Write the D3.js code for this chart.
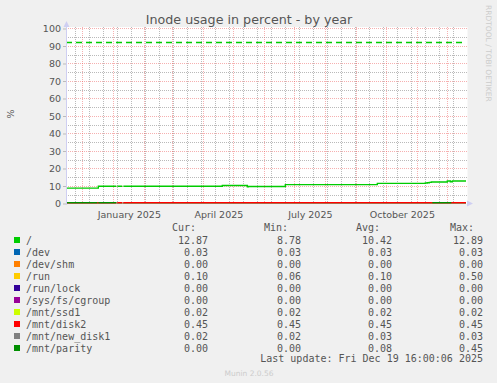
<!DOCTYPE html>
<html>
<head>
<meta charset="utf-8">
<title>Inode usage in percent - by year</title>
<style>
  body { margin: 0; background: #f0f0f0; }
  svg text { font-family: "DejaVu Sans", sans-serif; }
  .legend text { font-family: "DejaVu Sans Mono", monospace; font-size: 10px; fill: #555; }
</style>
</head>
<body>
<div id="chart"></div>
<script src="https://cdn.jsdelivr.net/npm/d3@7"></script>
<script type="text/javascript">
// ---- data ----
const names = ["/", "/dev", "/dev/shm", "/run", "/run/lock", "/sys/fs/cgroup", "/mnt/ssd1", "/mnt/disk2", "/mnt/new_disk1", "/mnt/parity"];
const colors = ["#00cc00", "#0066b3", "#ff8000", "#ffcc00", "#330099", "#990099", "#ccff00", "#ff0000", "#808080", "#008f00"];
const curVals = [12.87, 0.03, 0.00, 0.10, 0.00, 0.00, 0.02, 0.45, 0.02, 0.00];
const minVals = [8.78, 0.03, 0.00, 0.06, 0.00, 0.00, 0.02, 0.45, 0.02, 0.00];
const avgVals = [10.42, 0.03, 0.00, 0.10, 0.00, 0.00, 0.02, 0.45, 0.03, 0.08];
const maxVals = [12.89, 0.03, 0.00, 0.50, 0.00, 0.00, 0.02, 0.45, 0.03, 0.45];

// step series: value i holds from times[i] to times[i+1], null = no data
const rootTimes = ["2024-11-14 16:00", "2024-12-17", "2025-01-04", "2025-01-05", "2025-01-10", "2025-01-11",
  "2025-04-20", "2025-05-15", "2025-05-16", "2025-06-22", "2025-09-22", "2025-11-09", "2025-11-11",
  "2025-11-13", "2025-11-15", "2025-12-01", "2025-12-04", "2025-12-06", "2025-12-19 16:00"];
const rootValues = [8.78, 9.9, null, 9.9, null, 9.9, 10.3, 9.5, 9.7, 10.8, 11.5, 11.7, 11.9, 12.1, 12.3, 12.89, 12.4, 12.87];

const smallTimes = ["2024-11-14 16:00", "2025-01-04", "2025-01-05", "2025-01-10", "2025-01-11", "2025-12-19 16:00"];
const devValues = [0.03, null, 0.03, null, 0.03];
const shmValues = [0, null, 0, null, 0];
const runValues = [0.1, null, 0.1, null, 0.1];
const lockValues = [0, null, 0, null, 0];
const cgroupValues = [0, null, 0, null, 0];
const ssd1Values = [0.02, null, 0.02, null, 0.02];
const newDisk1Values = [0.03, null, 0.03, null, 0.02];
const disk2Values = [0.45, null, 0.45, null, 0.45];

const parityTimes = ["2024-11-14 16:00", "2024-12-16", "2024-12-17", "2025-01-04", "2025-11-16", "2025-12-05", "2025-12-19 16:00"];
const parityValues = [0.45, null, 0.45, null, 0.45, null];

const warningLevel = 92;
const yTicks = [0, 10, 20, 30, 40, 50, 60, 70, 80, 90, 100];
const xLabelMonths = ["2025-01-01", "2025-04-01", "2025-07-01", "2025-10-01"];
const graphStart = "2024-11-14 16:00", graphEnd = "2025-12-19 16:00";

// ---- setup ----
const W = 497, H = 383;
const parse = s => d3.utcParse(s.length > 10 ? "%Y-%m-%d %H:%M" : "%Y-%m-%d")(s);

const svg = d3.select("#chart").append("svg")
  .attr("width", W).attr("height", H);
svg.append("rect").attr("width", W).attr("height", H).attr("fill", "#f0f0f0");

const x = d3.scaleUtc().domain([parse(graphStart), parse(graphEnd)]).range([66, 466]);
const y = d3.scaleLinear().domain([0, 100]).range([203.5, 28.5]);

// plot canvas
svg.append("rect").attr("x", 66).attr("y", 27).attr("width", 401.5).attr("height", 177).attr("fill", "#fff");

// grid: minor = 5 units / two weeks, major = 10 units / months
const grid = svg.append("g");
const minorColor = "rgba(130,130,130,0.55)", majorColor = "rgba(235,80,80,0.45)";
const minorY = d3.range(5, 100, 10);
grid.selectAll(".hmin").data(minorY).join("line")
  .attr("x1", 66).attr("x2", 467).attr("y1", d => Math.round(y(d)) + 0.5).attr("y2", d => Math.round(y(d)) + 0.5)
  .attr("stroke", minorColor).attr("stroke-dasharray", "1,1");
const weeks = d3.utcDay.range(parse("2024-11-24"), parse(graphEnd), 14);
grid.selectAll(".vmin").data(weeks).join("line")
  .attr("x1", d => Math.round(x(d)) + 0.5).attr("x2", d => Math.round(x(d)) + 0.5).attr("y1", 27).attr("y2", 203.5)
  .attr("stroke", minorColor).attr("stroke-dasharray", "1,1");
grid.selectAll(".hmaj").data(yTicks.filter(d => d > 0)).join("line")
  .attr("x1", 66).attr("x2", 467).attr("y1", d => Math.floor(y(d)) + 0.5).attr("y2", d => Math.floor(y(d)) + 0.5)
  .attr("stroke", majorColor).attr("stroke-dasharray", "1,1");
const months = d3.utcMonth.range(parse("2024-11-20"), parse(graphEnd));
grid.selectAll(".vmaj").data(months).join("line")
  .attr("x1", d => Math.round(x(d)) + 0.5).attr("x2", d => Math.round(x(d)) + 0.5).attr("y1", 27).attr("y2", 203.5)
  .attr("stroke", majorColor).attr("stroke-dasharray", "1,1");

// y axis labels
const yAxis = svg.append("g").attr("transform", "translate(66,0)")
  .call(d3.axisLeft(y).tickValues(yTicks).tickSize(3).tickFormat(d3.format("d")));
yAxis.select(".domain").remove();
yAxis.selectAll(".tick line").attr("stroke", "#bbb");
yAxis.selectAll(".tick text").attr("x", -5).attr("fill", "#555").style("font-size", "9.5px")
  .style("font-family", "DejaVu Sans");

// x axis labels centered in their month
const labelDates = xLabelMonths.map(s => {
  const a = parse(s), b = d3.utcMonth.offset(a, 1);
  return new Date((+a + +b) / 2);
});
const xAxis = svg.append("g").attr("transform", "translate(0,203.5)")
  .call(d3.axisBottom(x).tickValues(labelDates).tickSize(0).tickFormat(d3.utcFormat("%B %Y")));
xAxis.select(".domain").remove();
xAxis.selectAll(".tick text").attr("y", 8).attr("fill", "#555").style("font-size", "9.5px")
  .style("font-family", "DejaVu Sans");

// ---- lines ----
svg.append("clipPath").attr("id", "plot")
  .append("rect").attr("x", 66).attr("y", 27).attr("width", 401).attr("height", 176.5);
const plot = svg.append("g").attr("clip-path", "url(#plot)");

function stepPoints(times, values) {
  const pts = [];
  values.forEach((v, i) => {
    if (v == null) { pts.push({ t: parse(times[i]), v: null }); return; }
    pts.push({ t: parse(times[i]), v: v }, { t: parse(times[i + 1]), v: v });
  });
  return pts;
}
const line = d3.line().defined(d => d.v != null).x(d => x(d.t)).y(d => y(d.v));

const series = [
  [smallTimes, devValues, colors[1]],
  [smallTimes, shmValues, colors[2]],
  [smallTimes, runValues, colors[3]],
  [smallTimes, lockValues, colors[4]],
  [smallTimes, cgroupValues, colors[5]],
  [smallTimes, ssd1Values, colors[6]],
  [smallTimes, newDisk1Values, colors[8]],
  [smallTimes, disk2Values, colors[7]],
  [parityTimes, parityValues, colors[9]],
  [rootTimes, rootValues, colors[0]]
];
series.forEach(s => {
  plot.append("path").datum(stepPoints(s[0], s[1]))
    .attr("d", line).attr("fill", "none").attr("stroke", s[2]).attr("stroke-width", 1.4);
});

// warning level for /
plot.append("line").attr("x1", 66).attr("x2", 466)
  .attr("y1", y(warningLevel)).attr("y2", y(warningLevel))
  .attr("stroke", colors[0]).attr("stroke-width", 1.4).attr("stroke-dasharray", "6,4");

// axes with arrows
svg.append("line").attr("x1", 66.5).attr("x2", 66.5).attr("y1", 205).attr("y2", 25).attr("stroke", "#cfcff2");
svg.append("path").attr("d", "M63.5,27 L66.5,21 L69.5,27 Z").attr("fill", "#cfcff2");
svg.append("path").attr("d", "M467,200.5 L473,203.5 L467,206.5 Z").attr("fill", "#cfcff2");

// titles
svg.append("text").attr("x", 249).attr("y", 24).attr("text-anchor", "middle")
  .style("font-size", "12.7px").attr("fill", "#555").text("Inode usage in percent - by year");
svg.append("text").attr("transform", "translate(14,114) rotate(-90)").attr("text-anchor", "middle")
  .style("font-size", "9.5px").attr("fill", "#555").text("%");
svg.append("text").attr("transform", "translate(485.5,5) rotate(90)")
  .style("font-size", "7.5px").attr("fill", "#ccc").text("RRDTOOL / TOBI OETIKER");

// ---- legend ----
const legend = svg.append("g").attr("class", "legend");
const fmt = d3.format(".2f");
const cols = [[208, curVals, 196, "Cur:"], [301, minVals, 288, "Min:"], [392, avgVals, 380, "Avg:"], [483, maxVals, 474, "Max:"]];
cols.forEach(c => {
  legend.append("text").attr("x", c[2]).attr("y", 231).attr("text-anchor", "end").text(c[3]);
});
names.forEach((n, i) => {
  const by = 243.6 + i * 12;
  legend.append("rect").attr("x", 14).attr("y", by - 6.6).attr("width", 6).attr("height", 6).attr("fill", colors[i]);
  legend.append("text").attr("x", 26).attr("y", by).text(n);
  cols.forEach(c => {
    legend.append("text").attr("x", c[0]).attr("y", by).attr("text-anchor", "end").text(fmt(c[1][i]));
  });
});
legend.append("text").attr("x", 483).attr("y", 362).attr("text-anchor", "end")
  .text("Last update: Fri Dec 19 16:00:06 2025");
svg.append("text").attr("x", 249).attr("y", 376).attr("text-anchor", "middle")
  .style("font-size", "7.5px").attr("fill", "#ccc").text("Munin 2.0.56");
</script>
</body>
</html>
